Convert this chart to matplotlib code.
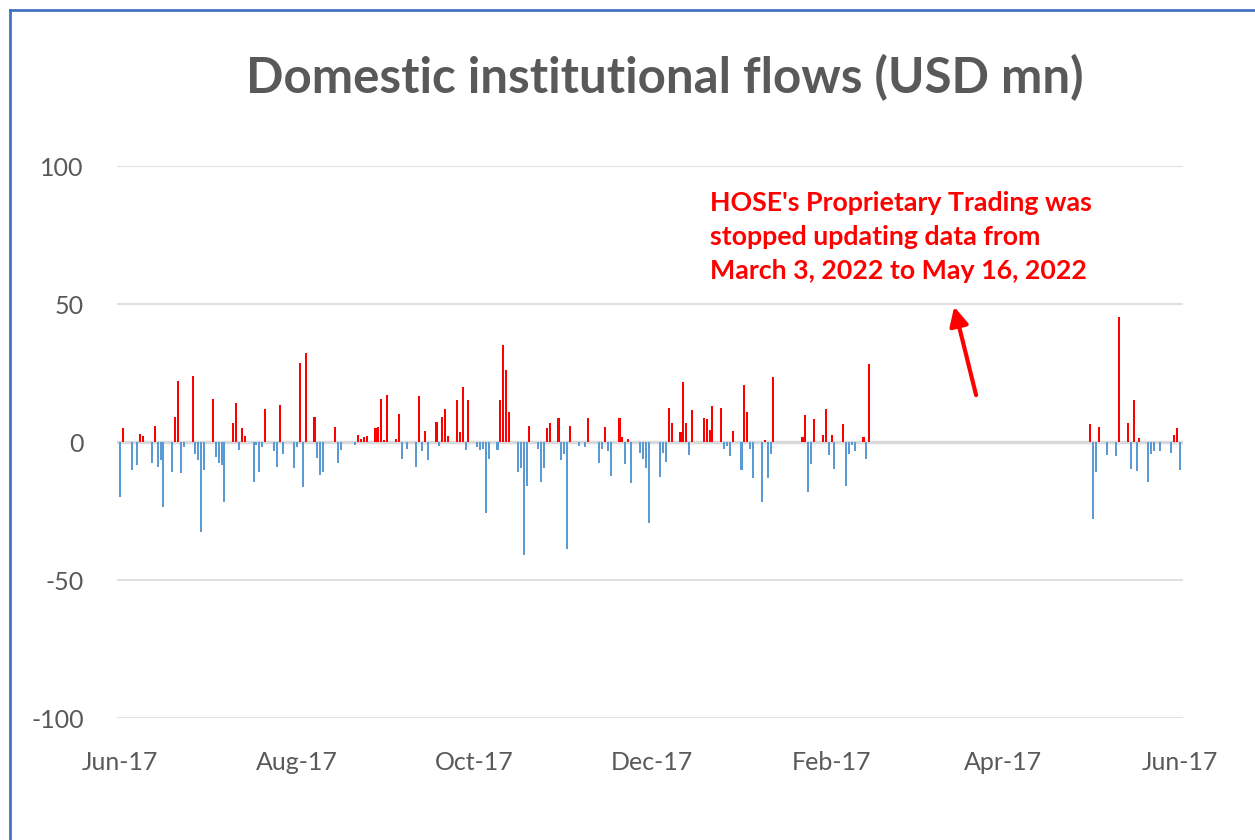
import matplotlib
matplotlib.use('Agg')
import matplotlib.pyplot as plt
import matplotlib.dates as mdates
from matplotlib.lines import Line2D
import numpy as np
import pandas as pd

# Daily domestic institutional net flows (USD mn)
dates = [
    '2021-06-17', '2021-06-18', '2021-06-21', '2021-06-23', '2021-06-24', '2021-06-25',
    '2021-06-28', '2021-06-29', '2021-06-30', '2021-07-01', '2021-07-02',
    '2021-07-05', '2021-07-06', '2021-07-07', '2021-07-08', '2021-07-09',
    '2021-07-12', '2021-07-13', '2021-07-14', '2021-07-15', '2021-07-16',
    '2021-07-19', '2021-07-20', '2021-07-21', '2021-07-22', '2021-07-23',
    '2021-07-26', '2021-07-27', '2021-07-28', '2021-07-29', '2021-07-30',
    '2021-08-02', '2021-08-03', '2021-08-04', '2021-08-05', '2021-08-06',
    '2021-08-09', '2021-08-10', '2021-08-11', '2021-08-12',
    '2021-08-16', '2021-08-17', '2021-08-18', '2021-08-19', '2021-08-20',
    '2021-08-23', '2021-08-24', '2021-08-25', '2021-08-26',
    '2021-08-30', '2021-08-31', '2021-09-01',
    '2021-09-06', '2021-09-07', '2021-09-08', '2021-09-09', '2021-09-10',
    '2021-09-13', '2021-09-14', '2021-09-15', '2021-09-16', '2021-09-17',
    '2021-09-20', '2021-09-21', '2021-09-22', '2021-09-24',
    '2021-09-27', '2021-09-28', '2021-09-29', '2021-09-30', '2021-10-01',
    '2021-10-04', '2021-10-05', '2021-10-06', '2021-10-07', '2021-10-08',
    '2021-10-11', '2021-10-12', '2021-10-13', '2021-10-14', '2021-10-15',
    '2021-10-18', '2021-10-19', '2021-10-20', '2021-10-21', '2021-10-22',
    '2021-10-25', '2021-10-26', '2021-10-27', '2021-10-28', '2021-10-29',
    '2021-11-01', '2021-11-02', '2021-11-03', '2021-11-04', '2021-11-05',
    '2021-11-08', '2021-11-09', '2021-11-10', '2021-11-11', '2021-11-12',
    '2021-11-15', '2021-11-16', '2021-11-17', '2021-11-18', '2021-11-19',
    '2021-11-22', '2021-11-24', '2021-11-25',
    '2021-11-29', '2021-11-30', '2021-12-01', '2021-12-02', '2021-12-03',
    '2021-12-06', '2021-12-07', '2021-12-08', '2021-12-09', '2021-12-10',
    '2021-12-13', '2021-12-14', '2021-12-15', '2021-12-16',
    '2021-12-20', '2021-12-21', '2021-12-22', '2021-12-23', '2021-12-24',
    '2021-12-27', '2021-12-28', '2021-12-29', '2021-12-30', '2021-12-31',
    '2022-01-04', '2022-01-05', '2022-01-06', '2022-01-07',
    '2022-01-10', '2022-01-11', '2022-01-12', '2022-01-13', '2022-01-14',
    '2022-01-17', '2022-01-18', '2022-01-19', '2022-01-20', '2022-01-21',
    '2022-01-24', '2022-01-25', '2022-01-26', '2022-01-27', '2022-01-28',
    '2022-02-07', '2022-02-08', '2022-02-09', '2022-02-10', '2022-02-11',
    '2022-02-14', '2022-02-15', '2022-02-16', '2022-02-17', '2022-02-18',
    '2022-02-21', '2022-02-22', '2022-02-23', '2022-02-24', '2022-02-25',
    '2022-02-28', '2022-03-01', '2022-03-02',
    '2022-05-17', '2022-05-18', '2022-05-19', '2022-05-20',
    '2022-05-23', '2022-05-26', '2022-05-27',
    '2022-05-30', '2022-05-31', '2022-06-01', '2022-06-02', '2022-06-03',
    '2022-06-06', '2022-06-07', '2022-06-08', '2022-06-10',
    '2022-06-14', '2022-06-15', '2022-06-16', '2022-06-17',
]
flows = [
    -20.0, 5.0, -10.3, -8.5, 2.8, 2.2,
    -7.5, 5.9, -8.9, -6.5, -23.7,
    -10.7, 9.2, 22.1, -11.2, -1.9,
    24.0, -4.2, -6.6, -32.6, -10.3,
    15.6, -5.3, -7.5, -8.5, -21.9,
    6.8, 14.3, -2.9, 5.0, 2.2,
    -14.5, -1.1, -10.7, -1.9, 12.0,
    -3.4, -8.9, 13.3, -4.2,
    -9.4, -1.9, 28.6, -16.3, 32.4,
    9.2, -5.7, -12.1, -10.7,
    5.4, -7.5, -2.9,
    -1.1, 2.7, 1.2, 1.7, 2.2,
    5.0, 5.4, 15.7, 0.7, 17.0,
    1.2, 10.1, -6.2, -2.4,
    -8.9, 16.5, -3.4, 4.0, -6.6,
    7.2, -1.4, 9.2, 12.0, 2.2,
    15.2, 3.6, 19.8, -2.9, 15.2,
    -1.9, -2.9, -2.4, -25.6, -6.2,
    -2.9, 15.2, 35.1, 26.0, 11.0,
    -10.7, -9.4, -41.1, -15.8, 5.9,
    -2.4, -14.5, -9.4, 5.0, 6.8,
    8.7, -6.6, -4.2, -38.6, 5.9,
    -1.4, -1.9, 8.7,
    -7.5, -2.4, 5.4, -3.4, -12.2,
    8.7, 1.7, -8.0, 1.2, -15.0,
    -3.9, -6.2, -9.4, -29.3,
    -12.7, -3.9, -7.1, 12.4, 6.8,
    3.6, 21.6, 6.8, -4.7, 11.5,
    8.7, 8.2, 4.5, 12.9,
    12.4, -2.4, -1.4, -5.2, 4.0,
    -10.3, 20.8, 11.0, -2.4, -13.2,
    -21.9, 0.7, -13.0, -4.2, 23.6,
    1.7, 9.7, -18.1, -8.0, 8.2,
    2.7, 12.0, -4.7, 2.7, -9.8,
    6.4, -15.8, -4.2, -1.1, -3.4,
    1.7, -6.2, 28.1,
    6.4, -28.0, -10.7, 5.4,
    -4.7, -5.2, 45.4,
    6.9, -9.9, 15.2, -10.4, 1.3,
    -14.5, -4.2, -3.4, -3.4,
    -3.9, 2.7, 5.0, -10.3,
]
tick_dates = ['2021-06-17', '2021-08-17', '2021-10-17', '2021-12-17',
              '2022-02-17', '2022-04-17', '2022-06-17']
y_ticks = [-100, -50, 0, 50, 100]

title = 'Domestic institutional flows (USD mn)'
note = ("HOSE's Proprietary Trading was\n"
        "stopped updating data from\n"
        "March 3, 2022 to May 16, 2022")

plt.rcParams['font.family'] = ['Lato', 'DejaVu Sans']
plt.rcParams['axes.unicode_minus'] = False

x = pd.to_datetime(dates)
y = np.array(flows)
colors = np.where(y >= 0, '#FF0000', '#5B9BD5')

fig = plt.figure(figsize=(12.55, 8.4), dpi=100)
ax = fig.add_axes([117/1255, 1-718/840, (1183-117)/1255, (718-166)/840])

ax.bar(x, y, width=0.7, color=colors, zorder=3)
ax.axhline(0, color='#D9D9D9', lw=2.5, zorder=2)

ax.set_ylim(-100, 100)
ax.set_xlim(pd.Timestamp('2021-06-16'), pd.Timestamp('2022-06-18'))
ax.set_yticks(y_ticks)
ax.set_xticks(pd.to_datetime(tick_dates))
ax.xaxis.set_major_formatter(mdates.DateFormatter('%b-%d'))
ax.grid(axis='y', color='#D9D9D9', lw=1.2, zorder=0)
ax.grid(axis='x', visible=False)
for s in ax.spines.values():
    s.set_visible(False)
ax.tick_params(length=0, labelsize=18, colors='#595959')
ax.tick_params(axis='y', pad=24)
ax.tick_params(axis='x', pad=24)

fig.text(0.530, 1-78/840, title, ha='center', va='center',
         fontsize=35.5, fontweight='bold', color='#595959')

fig.text(710/1255, 1-191/840, note, ha='left', va='top', fontsize=19.3,
         fontweight='bold', color='#FF0000', linespacing=1.5)

ax.annotate('', xy=(pd.Timestamp('2022-03-31'), 50),
            xytext=(pd.Timestamp('2022-04-08'), 16),
            arrowprops=dict(arrowstyle='-|>', color='#FF0000', lw=3,
                            mutation_scale=28))

# blue frame of the pasted chart
fig.add_artist(Line2D([10/1255, 1], [1-10/840, 1-10/840], color='#4472C4', lw=2))
fig.add_artist(Line2D([10/1255, 10/1255], [0, 1-10/840], color='#4472C4', lw=2))

fig.savefig('out.png', dpi=100, facecolor='white')
